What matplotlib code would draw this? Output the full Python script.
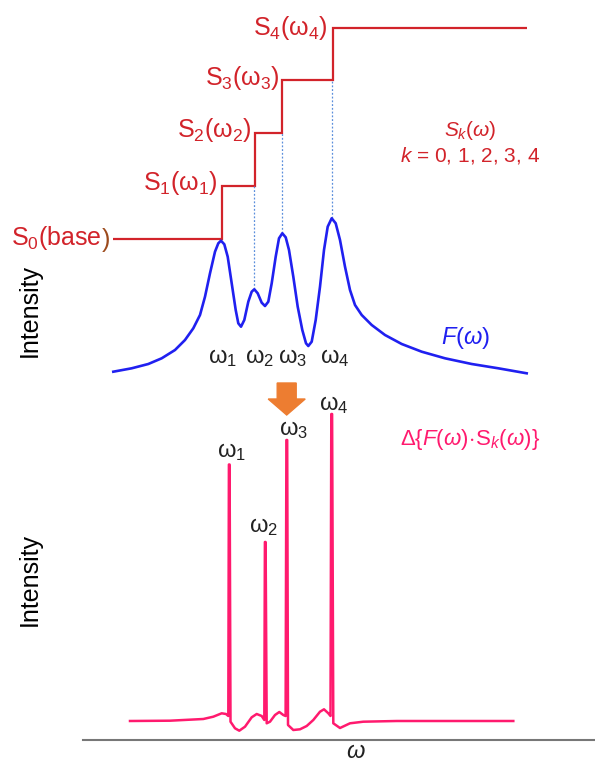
import matplotlib.pyplot as plt
from matplotlib.patches import FancyArrow

plt.rcParams['font.family'] = ['Liberation Sans', 'DejaVu Sans']
plt.rcParams['mathtext.fontset'] = 'custom'
plt.rcParams['mathtext.rm'] = 'Liberation Sans'
plt.rcParams['mathtext.it'] = 'Liberation Sans:italic'

# F(omega): traced spectrum (omega in arbitrary units, intensity in arbitrary units)
f_omega = [113.3, 131.7, 148.3, 161.7, 175, 185, 193.3, 200, 205, 210, 215, 218.3, 221,
           224.3, 227.7, 231.7, 235.7, 238.3, 241, 244.3, 248.3, 251.7, 254.3, 257.7,
           261.7, 265, 268.3, 271.7, 275.7, 279, 282.3, 285.7, 289, 293.3, 297.7, 302.3,
           306, 308.3, 311.7, 315.7, 320, 324, 327.7, 331.7, 335.7, 340, 345, 350, 355,
           361.7, 371.7, 385, 401.7, 421.7, 445, 471.7, 498.3, 526.7]
f_int = [8.3, 11.7, 16, 21.7, 30, 40, 51.7, 65, 83.3, 106.7, 128.3, 136.7, 139.3,
         135.7, 123.3, 96.7, 70, 56.7, 53.3, 60, 78.3, 88.3, 90.7, 86.7,
         77.3, 74, 78.3, 96.7, 123.3, 141.7, 146.7, 142.7, 130, 103.3, 73.3, 50,
         36.7, 34, 38.3, 60, 93.3, 130, 153.3, 161.7, 156.7, 140, 113.3, 90, 75,
         65, 55, 45, 36, 28.3, 21.7, 16, 11.7, 6.7]

# S_k(omega): step levels and step edges
step_edges = [113, 222, 255, 282, 333, 527]
step_levels = [141, 194, 247, 300, 352]
step_labels = [r'$\mathregular{S_0}$(base', r'$\mathregular{S_1(\omega_1)}$',
               r'$\mathregular{S_2(\omega_2)}$', r'$\mathregular{S_3(\omega_3)}$',
               r'$\mathregular{S_4(\omega_4)}$']
peak_pos = [221, 254.3, 282.3, 331.7]
peak_top = [139.3, 90.7, 146.7, 161.7]

# Delta{F(omega) S_k(omega)}: traced difference spectrum
d_omega = [130, 170, 203.3, 213.3, 221.7, 226, 228.3, 228.9, 229.6, 230.5, 235, 239.3,
           245, 251.7, 256.7, 261.7, 264.3, 264.9, 265.6, 266.7, 270, 275, 279.3, 283.3,
           285.6, 286.4, 287.2, 288, 293.3, 300, 306.7, 313.3, 320, 324, 328.3, 330.5,
           331.3, 332.1, 333.3, 340, 350, 363.3, 396.7, 513.3]
d_int = [19, 19.3, 21, 23.3, 26.7, 26, 24, 275.5, 275.5, 18.3, 11.7, 9.3,
         13.3, 22.7, 26, 24, 20, 198, 198, 16.7, 18.3, 25, 28, 25,
         24, 300, 300, 15, 10, 10.7, 14, 20, 28.3, 30.7, 26.7, 24,
         326, 326, 16.7, 12, 16.7, 18.3, 19, 19]
d_labels = [r'$\mathregular{\omega_1}$', r'$\mathregular{\omega_2}$',
            r'$\mathregular{\omega_3}$', r'$\mathregular{\omega_4}$']
d_label_y = [288, 213, 310, 335]

red = '#d2232a'
blue = '#2020f0'
pink = '#ff1a6e'

fig = plt.figure(figsize=(5.95, 7.62), dpi=100)
ax1 = fig.add_axes([0, 1 - 380 / 762, 1, 380 / 762])
ax2 = fig.add_axes([0, 0, 1, 382 / 762])

# top panel
ax1.set_xlim(0, 595)
ax1.set_ylim(0, 380)
ax1.axis('off')
ax1.stairs(step_levels, step_edges, baseline=None, color=red, lw=1.6)
ax1.vlines(peak_pos[1:], peak_top[1:], step_levels[1:4], color='#5b8fdc',
           lw=0.9, linestyles=(0, (1.5, 1.5)))
ax1.plot(f_omega, f_int, color=blue, lw=1.9, solid_joinstyle='round')

label_right = [102, 218, 252, 280, 328]
label_y = [142, 197, 250, 302, 352]
for i, lab in enumerate(step_labels):
    t = ax1.text(label_right[i], label_y[i], lab, color=red,
                 fontsize=18, ha='right', va='center')
    if i == 0:
        base_label = t
ax1.annotate(')', xy=(1, 0), xycoords=base_label, color='#9c4a1c', fontsize=18,
             ha='left', va='bottom')

ax1.text(470, 250, r'$S_k(\omega)$', color=red, fontsize=15, ha='center', va='center')
ax1.text(470, 225, r'$k$ = 0, 1, 2, 3, 4', color=red, fontsize=15, ha='center', va='center')
ax1.text(466, 42, r'$F(\omega)$', color=blue, fontsize=17, ha='center', va='center')
for x, lab in zip([223, 260, 293, 335], d_labels):
    ax1.text(x, 22, lab, color='#222222', fontsize=17, ha='center', va='center')
ax1.text(30, 70, 'Intensity', fontsize=18, rotation=90, ha='center', va='center')

# bottom panel
ax2.set_xlim(0, 595)
ax2.set_ylim(-22, 360)
for s in ['top', 'left', 'right']:
    ax2.spines[s].set_visible(False)
ax2.spines['bottom'].set_position(('data', 0))
ax2.spines['bottom'].set_bounds(83, 595)
ax2.spines['bottom'].set_color('#777777')
ax2.spines['bottom'].set_linewidth(1.5)
ax2.set_xticks([])
ax2.set_yticks([])
ax2.patch.set_alpha(0)
ax2.plot(d_omega, d_int, color=pink, lw=1.8, solid_joinstyle='round')
for x, y, lab in zip([231.7, 263.3, 293.3, 333.3], d_label_y, d_labels):
    ax2.text(x, y, lab, color='#222222', fontsize=17, ha='center', va='center')
ax2.text(470, 300, r'$\Delta\{F(\omega)\!\cdot\!\mathregular{S}_k(\omega)\}$', color=pink,
         fontsize=16, ha='center', va='center')
ax2.text(356, -12, r'$\omega$', color='#222222', fontsize=17, ha='center', va='center')
ax2.text(30, 160, 'Intensity', fontsize=18, rotation=90, ha='center', va='center')
ax2.add_patch(FancyArrow(286.7, 357, 0, -32, width=19, head_width=37, head_length=16,
                         length_includes_head=True, color='#ed7d31', clip_on=False))

fig.savefig('out.png', dpi=100)
